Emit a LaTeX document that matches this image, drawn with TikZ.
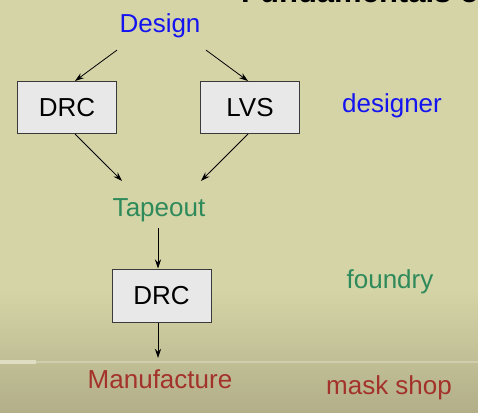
\documentclass[tikz,border=0pt]{standalone}
\usepackage{fontspec}
\setmainfont{Liberation Sans}
\usetikzlibrary{arrows.meta,calc}
\definecolor{bgtop}{HTML}{D5D4A6}
\definecolor{bgbot}{HTML}{B2AF89}
\definecolor{sepline}{HTML}{CFCEAF}
\definecolor{seplight}{HTML}{DFDEC3}
\definecolor{dblue}{HTML}{1414F0}
\definecolor{dgreen}{HTML}{2E8A5A}
\definecolor{dred}{HTML}{A3322A}
\definecolor{boxfill}{HTML}{E8E8E8}
\definecolor{boxline}{HTML}{3A3A3A}
\begin{document}
\begin{tikzpicture}[x=1pt,y=-1pt,
  lbl/.style={font=\fontsize{26}{31}\selectfont, inner sep=0pt, anchor=base},
  stepbox/.style={draw=boxline, fill=boxfill, line width=1pt, minimum width=99pt, minimum height=52pt, inner sep=0pt, font=\fontsize{26}{31}\selectfont},
  arr/.style={-{Stealth[length=9pt,width=6pt]}, line width=0.8pt, draw=black}]
\useasboundingbox (0,0) rectangle (478,412);
\fill[bgtop] (0,0) rectangle (478,412);
\shade[top color=bgtop, bottom color=bgbot] (0,290) rectangle (478,412);
\fill[sepline] (0,360.5) rectangle (478,363);
\fill[seplight] (0,360) rectangle (36,364);
\begin{scope}
  \clip (0,0) rectangle (478,412);
  \node[anchor=base west, inner sep=0pt, font=\bfseries\fontsize{31}{36}\selectfont] (title) at (241,2.5) {Fundamentals of};
\end{scope}
\node[lbl, text=dblue] (design) at (160,33) {Design};
\node[stepbox] (drc1) at (67,107.5) {DRC};
\node[stepbox] (lvs) at (250,107.5) {LVS};
\node[lbl, text=dgreen] (tapeout) at (159,216) {Tapeout};
\node[stepbox, minimum height=53pt] (drc2) at (161.5,295.5) {DRC};
\node[lbl, text=dred] (manu) at (160,388) {Manufacture};
\node[lbl, text=dblue] (designer) at (392,112) {designer};
\node[lbl, text=dgreen] (foundry) at (390,288) {foundry};
\node[lbl, text=dred] (mask) at (389,394) {mask shop};
\draw[arr] ($(design.south)+(-43,11.5)$) -- ($(drc1.north)+(8,0)$);
\draw[arr] ($(design.south)+(46,11.5)$) -- ($(lvs.north)+(-2,0)$);
\draw[arr] ($(drc1.south)+(8,0)$) -- ($(tapeout.north)+(-37,-17)$);
\draw[arr] ($(lvs.south)+(-2,0)$) -- ($(tapeout.north)+(42,-17)$);
\draw[arr] ($(tapeout.south)+(-1,6.5)$) -- ($(drc2.north)+(-3.5,0)$);
\draw[arr] ($(drc2.south)+(-3.5,0)$) -- ($(manu.north)+(-2,-11)$);
\end{tikzpicture}
\end{document}
